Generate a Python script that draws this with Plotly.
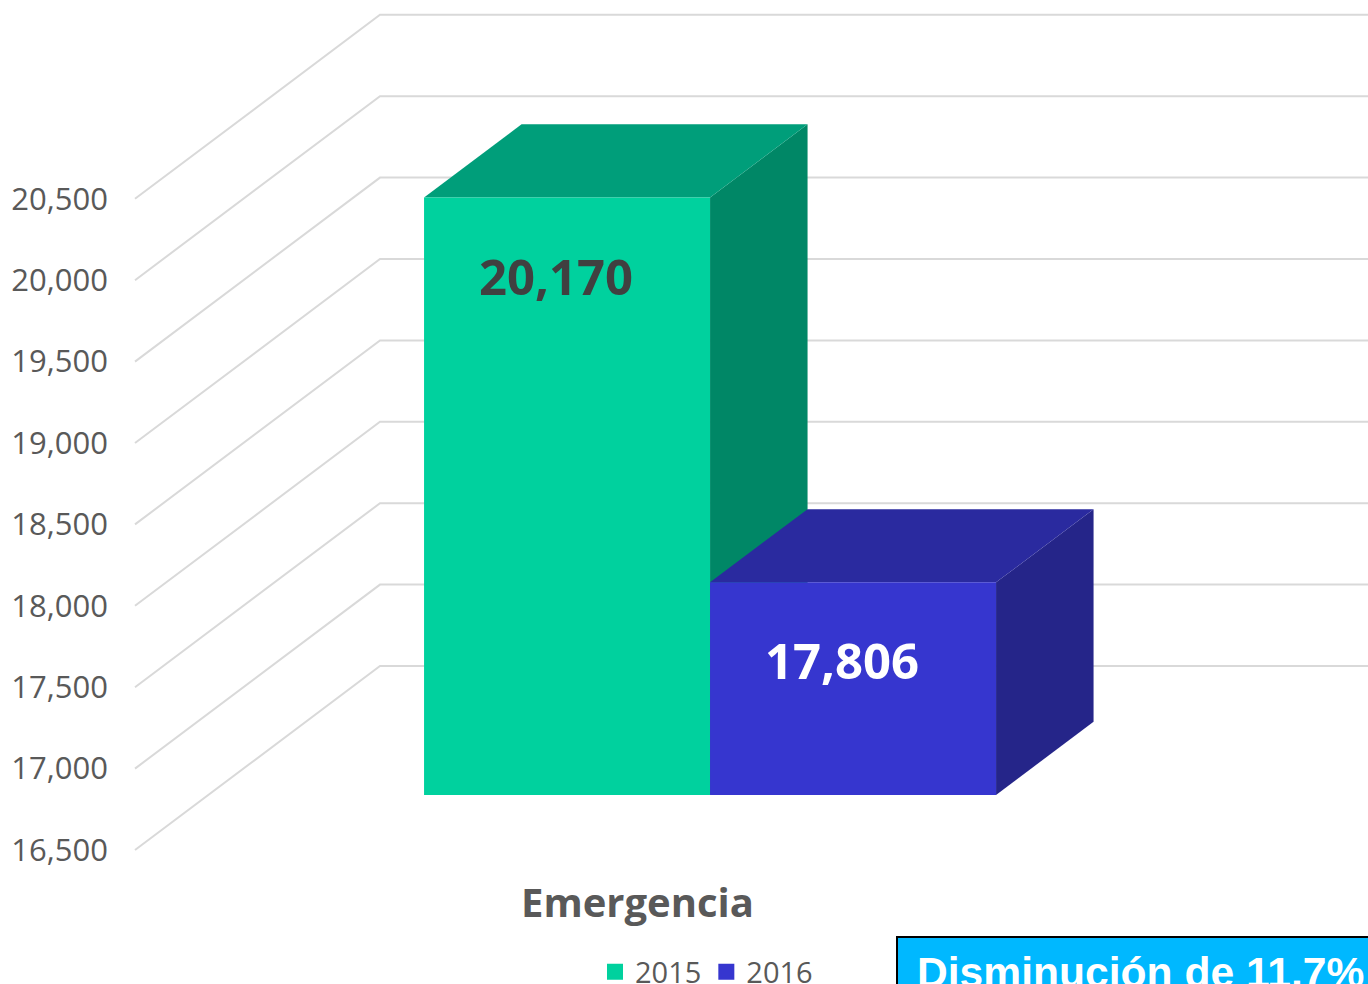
import plotly.graph_objects as go

category = ["Emergencia"]
years = ["2015", "2016"]
values = [20170, 17806]
ticks = [16500, 17000, 17500, 18000, 18500, 19000, 19500, 20000, 20500]
callout = "Disminución de 11.7%"

front = ["#00D19E", "#3636CF"]
top = ["#009E7A", "#2A2A9F"]
side = ["#008766", "#252589"]
GRID = "#D9D9D9"
FONT = "Open Sans"

W, H = 1368, 984
PX_PER_VAL = 81.4 / 500.0
PX_PER_X = 286.0
V_AT_BOTTOM = 16500 - (H - 850) / PX_PER_VAL
V_AT_TOP = 16500 + 850 / PX_PER_VAL
X_ORIGIN = 350.8
L = 115
DX = 245 / PX_PER_X      # depth shift, x units
DV = 184 / PX_PER_VAL    # depth shift, value units
Z0, Z1 = 0.299, 0.697
FLOOR = ticks[0]


def proj(x, v, z):
    return x + z * DX, v + z * DV


def poly(pts, color):
    xs, ys = zip(*[proj(*p) for p in pts])
    return go.Scatter(x=list(xs) + [xs[0]], y=list(ys) + [ys[0]], mode="lines", fill="toself",
                      fillcolor=color, line=dict(width=0, color=color),
                      showlegend=False, hoverinfo="skip")


fig = go.Figure()

# grid: side wall then back wall
x_left = (135 - X_ORIGIN) / PX_PER_X
x_right = (W + 10 - X_ORIGIN) / PX_PER_X - DX
for t in ticks:
    a = proj(x_left, t, 0)
    b = proj(x_left, t, 1)
    c = proj(x_right, t, 1)
    fig.add_trace(go.Scatter(x=[a[0], b[0], c[0]], y=[a[1], b[1], c[1]], mode="lines",
                             line=dict(color=GRID, width=2), showlegend=False, hoverinfo="skip"))

# bars: side, top and front faces, in series order
for i, v in enumerate(values):
    x0, x1 = i, i + 1
    fig.add_trace(poly([(x1, FLOOR, Z0), (x1, FLOOR, Z1), (x1, v, Z1), (x1, v, Z0)], side[i]))
    fig.add_trace(poly([(x0, v, Z0), (x0, v, Z1), (x1, v, Z1), (x1, v, Z0)], top[i]))
    fig.add_trace(poly([(x0, FLOOR, Z0), (x1, FLOOR, Z0), (x1, v, Z0), (x0, v, Z0)], front[i]))

# legend entries
for i, y in enumerate(years):
    fig.add_trace(go.Scatter(x=[None], y=[None], mode="markers", name=y,
                             marker=dict(symbol="square", size=16, color=front[i]), hoverinfo="skip"))

# value labels
for i, v in enumerate(values):
    lx, ly = proj(i + 0.5 - 11 / PX_PER_X, v - 78 / PX_PER_VAL, Z0)
    fig.add_annotation(x=lx, y=ly, text=f"<b>{v:,}</b>", showarrow=False, xanchor="center", yanchor="middle",
                       font=dict(family=FONT, size=49, color="#404040" if i == 0 else "#FFFFFF"))

# category label
fig.add_annotation(x=(637 - X_ORIGIN) / PX_PER_X, y=FLOOR - (901 - 850) / PX_PER_VAL,
                   text=f"<b>{category[0]}</b>", showarrow=False, xanchor="center", yanchor="middle",
                   font=dict(family=FONT, size=40, color="#595959"))

# callout box
fig.add_shape(type="rect", xref="paper", yref="paper",
              x0=897 / W, x1=1.02, y0=-0.02, y1=(H - 937) / H,
              fillcolor="#00B8FF", line=dict(color="#000000", width=2), layer="above")
fig.add_annotation(xref="paper", yref="paper", x=915 / W, y=(H - 946) / H,
                   text=f"<b>{callout}</b>", showarrow=False, xanchor="left", yanchor="top",
                   font=dict(family="Liberation Sans", size=42.6, color="#FFFFFF"))

fig.update_layout(
    width=W, height=H, margin=dict(l=0, r=0, t=0, b=0, autoexpand=False),
    paper_bgcolor="#FFFFFF", plot_bgcolor="#FFFFFF", template=None,
    font=dict(family=FONT, color="#595959"),
    legend=dict(orientation="h", x=595 / W, xanchor="left", y=(H - 972) / H, yanchor="middle",
                font=dict(family=FONT, size=29, color="#595959"), bgcolor="rgba(0,0,0,0)"),
    xaxis=dict(domain=[L / W, 1], range=[(L - X_ORIGIN) / PX_PER_X, (W - X_ORIGIN) / PX_PER_X],
               showgrid=False, zeroline=False, showticklabels=False, showline=False, ticks=""),
    yaxis=dict(domain=[0, 1], range=[V_AT_BOTTOM, V_AT_TOP], tickvals=ticks, tickformat=",",
               showgrid=False, zeroline=False, showline=False, ticks="", ticklabelstandoff=6,
               tickfont=dict(family=FONT, size=31, color="#595959")),
)

fig.write_html("out.html", config=dict(displayModeBar=False),
               post_script="document.body.style.margin='0';document.body.style.overflow='hidden';")
